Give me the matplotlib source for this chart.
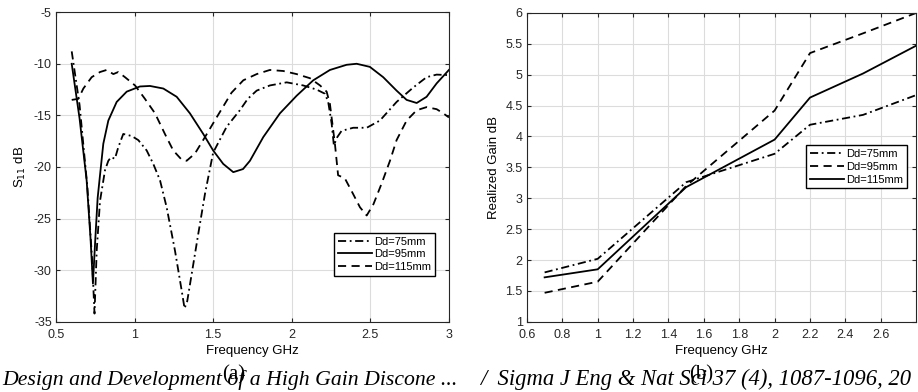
import numpy as np
import matplotlib
matplotlib.use("Agg")
import matplotlib.pyplot as plt

plt.rcParams['font.family'] = ['Liberation Sans', 'DejaVu Sans']
plt.rcParams['axes.unicode_minus'] = False

# (a) S11 vs frequency
f75 = [0.6, 0.65, 0.7, 0.73, 0.745, 0.759, 0.78, 0.812, 0.833, 0.85, 0.875, 0.896, 0.928,
       0.982, 1.024, 1.077, 1.119, 1.162, 1.204, 1.257, 1.3, 1.318, 1.335, 1.363, 1.405,
       1.448, 1.5, 1.586, 1.67, 1.72, 1.777, 1.861, 1.968, 2.073, 2.158, 2.211, 2.232,
       2.254, 2.268, 2.29, 2.317, 2.391, 2.477, 2.561, 2.667, 2.773, 2.858, 2.922, 3.0]
s75 = [-8.8, -14.0, -22.0, -29.0, -34.2, -28.1, -23.3, -20.3, -19.4, -19.05, -19.2, -18.1, -16.8,
       -17.0, -17.4, -18.4, -19.7, -21.3, -23.9, -28.1, -32.0, -33.7, -33.0, -30.4, -26.5,
       -22.6, -18.6, -16.1, -14.5, -13.4, -12.6, -12.1, -11.8, -12.1, -12.5, -12.9, -13.7,
       -15.8, -17.9, -17.1, -16.5, -16.2, -16.2, -15.5, -13.7, -12.3, -11.3, -11.05, -11.1]

f95 = [0.6, 0.65, 0.695, 0.72, 0.735, 0.75, 0.765, 0.78, 0.801, 0.833, 0.886, 0.95, 1.034,
       1.098, 1.183, 1.268, 1.352, 1.437, 1.5, 1.564, 1.628, 1.69, 1.734, 1.819, 1.925,
       2.031, 2.137, 2.243, 2.349, 2.413, 2.497, 2.582, 2.667, 2.731, 2.795, 2.858, 2.922, 3.0]
s95 = [-10.0, -15.3, -21.3, -27.0, -31.3, -27.0, -23.0, -20.8, -17.75, -15.5, -13.7, -12.7, -12.2,
       -12.15, -12.4, -13.2, -14.8, -16.8, -18.4, -19.7, -20.5, -20.2, -19.4, -17.1, -14.8,
       -13.1, -11.6, -10.6, -10.1, -10.0, -10.3, -11.3, -12.6, -13.5, -13.8, -13.2, -11.9, -10.6]

f115 = [0.6, 0.642, 0.674, 0.727, 0.78, 0.822, 0.865, 0.896, 0.939, 1.003, 1.066, 1.13,
        1.193, 1.246, 1.3, 1.331, 1.384, 1.448, 1.522, 1.617, 1.692, 1.777, 1.861, 1.946,
        2.031, 2.116, 2.18, 2.222, 2.243, 2.275, 2.295, 2.338, 2.39, 2.434, 2.477, 2.52,
        2.572, 2.625, 2.667, 2.731, 2.795, 2.858, 2.922, 2.964, 3.0]
s115 = [-13.5, -13.4, -12.4, -11.3, -10.8, -10.6, -11.0, -10.8, -11.3, -12.1, -13.4, -14.8,
        -16.8, -18.4, -19.3, -19.4, -18.7, -17.1, -15.2, -12.8, -11.6, -11.0, -10.6, -10.7,
        -11.0, -11.4, -12.1, -12.7, -13.9, -17.8, -20.8, -21.1, -22.6, -23.9, -24.7, -23.6,
        -21.6, -19.4, -17.4, -15.5, -14.5, -14.2, -14.4, -14.8, -15.2]

# (b) realized gain
fg = [0.7, 1.0, 1.5, 2.0, 2.2, 2.5, 2.8]
g75 = [1.8, 2.02, 3.26, 3.72, 4.19, 4.35, 4.67]
g95 = [1.47, 1.65, 3.2, 4.42, 5.35, 5.67, 6.0]
g115 = [1.72, 1.85, 3.18, 3.95, 4.63, 5.02, 5.47]

fig = plt.figure(figsize=(9.18, 3.92), dpi=100)
ax1 = fig.add_axes([0.061, 0.179, 0.428, 0.790])
ax2 = fig.add_axes([0.574, 0.179, 0.424, 0.788])

lw = 1.3
dash = (0, (4.5, 3))
dashdot = (0, (4.5, 2, 1, 2))
ax1.plot(f75, s75, color='k', linestyle=dashdot, lw=lw, label='Dd=75mm')
ax1.plot(f95, s95, color='k', linestyle='-', lw=lw, label='Dd=95mm')
ax1.plot(f115, s115, color='k', linestyle=dash, lw=lw, label='Dd=115mm')
ax1.set_xlim(0.5, 3)
ax1.set_ylim(-35, -5)
ax1.set_xticks(np.arange(0.5, 3.01, 0.5))
ax1.set_xticklabels(['0.5', '1', '1.5', '2', '2.5', '3'])
ax1.set_yticks(np.arange(-35, -4, 5))
ax1.set_xlabel('Frequency GHz', fontsize=9.5, labelpad=3)
ax1.set_ylabel('S$_{11}$ dB', fontsize=9.5)
ax1.legend(loc='lower right', bbox_to_anchor=(0.978, 0.13), fontsize=8,
           handlelength=3.0, handletextpad=0.2, borderpad=0.35, labelspacing=0.25,
           fancybox=False, edgecolor='k', framealpha=1)

ax2.plot(fg, g75, color='k', linestyle=dashdot, lw=lw, label='Dd=75mm')
ax2.plot(fg, g95, color='k', linestyle=dash, lw=lw, label='Dd=95mm')
ax2.plot(fg, g115, color='k', linestyle='-', lw=lw, label='Dd=115mm')
ax2.set_xlim(0.6, 2.8)
ax2.set_ylim(1, 6)
ax2.set_xticks(np.arange(0.6, 2.61, 0.2))
ax2.set_xticklabels(['0.6', '0.8', '1', '1.2', '1.4', '1.6', '1.8', '2', '2.2', '2.4', '2.6'])
ax2.set_yticks(np.arange(1, 6.01, 0.5))
ax2.set_yticklabels(['1', '1.5', '2', '2.5', '3', '3.5', '4', '4.5', '5', '5.5', '6'])
ax2.set_xlabel('Frequency GHz', fontsize=9.5, labelpad=3)
ax2.set_ylabel('Realized Gain dB', fontsize=9.5)
ax2.legend(loc='upper right', bbox_to_anchor=(0.99, 0.59), fontsize=8,
           handlelength=3.0, handletextpad=0.2, borderpad=0.35, labelspacing=0.25,
           fancybox=False, edgecolor='k', framealpha=1)

for ax in (ax1, ax2):
    ax.grid(True, color='#dcdcdc', lw=0.8)
    ax.set_axisbelow(True)
    ax.tick_params(direction='in', top=True, right=True, labelsize=9, length=3,
                   color='#262626', labelcolor='#262626', pad=3)
    ax.tick_params(axis='x', pad=5)
    for sp in ax.spines.values():
        sp.set_color('#262626')
        sp.set_linewidth(0.8)

# caption strip at the bottom (it is cut off in the reference too)
serif = ['Liberation Serif', 'DejaVu Serif']
fig.text(0.002, 0.018, 'Design and Development of a High Gain Discone ...',
         family=serif, style='italic', fontsize=15.7, va='baseline')
fig.text(0.523, 0.018, '/  Sigma J Eng & Nat Sci 37 (4), 1087-1096, 20',
         family=serif, style='italic', fontsize=16.3, va='baseline')
fig.text(0.255, 0.031, '(a)', family=serif, fontsize=15, ha='center', va='baseline')
fig.text(0.764, 0.031, '(b)', family=serif, fontsize=15, ha='center', va='baseline')

fig.savefig('out.png', dpi=100)
